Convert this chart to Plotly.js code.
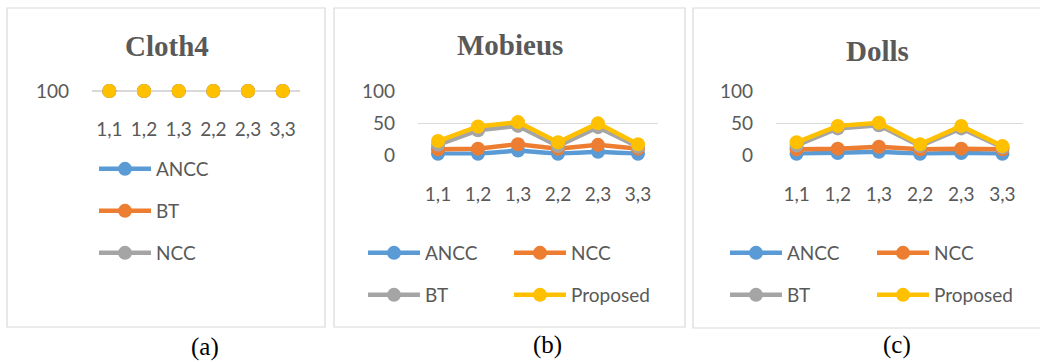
<!DOCTYPE html>
<html>
<head>
<meta charset="utf-8">
<script src="https://cdn.plot.ly/plotly-3.0.1.min.js"></script>
<style>
  html, body { margin: 0; padding: 0; background: #ffffff; }
  #chart { width: 1040px; height: 362px; }
</style>
</head>
<body>
<div id="chart"></div>
<script>
// Window sizes (row,col) compared in each scene
const categories = ['1,1', '1,2', '1,3', '2,2', '2,3', '3,3'];

// Cloth4: every method reaches 100
const cloth4Ancc     = [100, 100, 100, 100, 100, 100];
const cloth4Bt       = [100, 100, 100, 100, 100, 100];
const cloth4Ncc      = [100, 100, 100, 100, 100, 100];
const cloth4Proposed = [100, 100, 100, 100, 100, 100];

// Mobieus
const mobieusAncc     = [2, 2, 7, 2, 5, 2];
const mobieusNcc      = [9, 10, 17, 10, 16, 10];
const mobieusBt       = [16, 39, 46, 14, 44, 13];
const mobieusProposed = [22, 45, 52, 20, 50, 17];

// Dolls
const dollsAncc     = [2, 3, 5, 2, 3, 2];
const dollsNcc      = [9, 10, 13, 9, 10, 9];
const dollsBt       = [15, 42, 47, 14, 42, 12];
const dollsProposed = [20, 46, 51, 17, 46, 14];

const panelTitles = ['Cloth4', 'Mobieus', 'Dolls'];
const captions = ['(a)', '(b)', '(c)'];
const yTicks = [0, 50, 100];

const W = 1040, H = 362;
const BLUE = '#5B9BD5', ORANGE = '#ED7D31', GRAY = '#A5A5A5', GOLD = '#FFC000';
const TEXT = '#595959', GRID = '#D9D9D9';
const SANS = 'Lato, "Open Sans", sans-serif';
const SERIF = '"Liberation Serif", "Times New Roman", serif';

const px = v => v / W;           // horizontal pixel -> paper
const py = v => 1 - v / H;       // vertical pixel -> paper

function series(name, y, color, xa, ya, legend, opts) {
  opts = opts || {};
  return {
    type: 'scatter', mode: opts.mode || 'lines+markers', name: name,
    x: opts.x || categories, y: y, xaxis: xa, yaxis: ya,
    line: { color: color, width: 4.5 },
    marker: { color: color, size: 14, line: { width: 0 } },
    cliponaxis: false,
    legend: legend, showlegend: opts.showlegend !== false
  };
}

// Cloth4 points coincide at 100, so only markers are plotted there;
// its legend keys come from empty line+marker entries.
const none = [null];

const traces = [
  // (a) Cloth4
  series('ANCC', cloth4Ancc, BLUE, 'x', 'y', 'legend', { mode: 'markers', showlegend: false }),
  series('BT', cloth4Bt, ORANGE, 'x', 'y', 'legend', { mode: 'markers', showlegend: false }),
  series('NCC', cloth4Ncc, GRAY, 'x', 'y', 'legend', { mode: 'markers', showlegend: false }),
  series('Proposed', cloth4Proposed, GOLD, 'x', 'y', 'legend', { mode: 'markers', showlegend: false }),
  series('ANCC', none, BLUE, 'x', 'y', 'legend', { x: none }),
  series('BT', none, ORANGE, 'x', 'y', 'legend2', { x: none }),
  series('NCC', none, GRAY, 'x', 'y', 'legend3', { x: none }),
  // (b) Mobieus
  series('ANCC', mobieusAncc, BLUE, 'x2', 'y2', 'legend4'),
  series('NCC', mobieusNcc, ORANGE, 'x2', 'y2', 'legend5'),
  series('BT', mobieusBt, GRAY, 'x2', 'y2', 'legend6'),
  series('Proposed', mobieusProposed, GOLD, 'x2', 'y2', 'legend7'),
  // (c) Dolls
  series('ANCC', dollsAncc, BLUE, 'x3', 'y3', 'legend8'),
  series('NCC', dollsNcc, ORANGE, 'x3', 'y3', 'legend9'),
  series('BT', dollsBt, GRAY, 'x3', 'y3', 'legend10'),
  series('Proposed', dollsProposed, GOLD, 'x3', 'y3', 'legend11')
];

const tickFont = { family: SANS, size: 19, color: TEXT };

function xAxis(left, right, anchor, standoff) {
  return {
    domain: [px(left), px(right)], anchor: anchor,
    type: 'category', range: [-0.5, 5.5],
    showgrid: false, showline: false, zeroline: false, ticks: '',
    tickfont: tickFont, ticklabelstandoff: standoff, fixedrange: true
  };
}

function yAxis(bottom, top, anchor, range, tickvals) {
  return {
    domain: [py(bottom), py(top)], anchor: anchor,
    range: range, tickmode: 'array', tickvals: tickvals,
    showgrid: true, gridcolor: GRID, gridwidth: 1.5,
    showline: false, zeroline: false, ticks: '',
    tickfont: tickFont, ticklabelstandoff: 22, fixedrange: true
  };
}

function legendAt(x, y) {
  return {
    x: px(x), y: py(y), xanchor: 'left', yanchor: 'middle',
    orientation: 'v', bgcolor: 'rgba(0,0,0,0)', borderwidth: 0,
    font: { family: SANS, size: 19, color: TEXT },
    itemwidth: 52, itemclick: false, itemdoubleclick: false
  };
}

const shapeBox = (x0, y0, x1, y1) => ({
  type: 'rect', xref: 'paper', yref: 'paper', layer: 'below',
  x0: px(x0), x1: px(x1), y0: py(y1), y1: py(y0),
  line: { color: GRID, width: 1.2 }, fillcolor: 'rgba(0,0,0,0)'
});

const titleAt = (text, x, y) => ({
  text: text, xref: 'paper', yref: 'paper', x: px(x), y: py(y),
  xanchor: 'center', yanchor: 'middle', showarrow: false,
  font: { family: SERIF, size: 29, color: TEXT, weight: 'bold' }
});

const captionAt = (text, x, y) => ({
  text: text, xref: 'paper', yref: 'paper', x: px(x), y: py(y),
  xanchor: 'center', yanchor: 'middle', showarrow: false,
  font: { family: SERIF, size: 25, color: '#000000' }
});

const layout = {
  width: W, height: H,
  margin: { l: 0, r: 0, t: 0, b: 0 },
  paper_bgcolor: '#ffffff', plot_bgcolor: 'rgba(0,0,0,0)',
  showlegend: true,
  xaxis: xAxis(92, 300, 'y', 18),
  yaxis: yAxis(98, 84, 'x', [99, 101], [100]),
  xaxis2: xAxis(418, 658, 'y2', 25),
  yaxis2: yAxis(155.6, 91.1, 'x2', [-1, 101], yTicks),
  xaxis3: xAxis(776, 1023, 'y3', 25),
  yaxis3: yAxis(155.6, 91.1, 'x3', [-1, 101], yTicks),
  legend: legendAt(94, 169),
  legend2: legendAt(94, 211),
  legend3: legendAt(94, 253),
  legend4: legendAt(363, 253),
  legend5: legendAt(509, 253),
  legend6: legendAt(363, 295),
  legend7: legendAt(509, 295),
  legend8: legendAt(725, 253),
  legend9: legendAt(872, 253),
  legend10: legendAt(725, 295),
  legend11: legendAt(872, 295),
  shapes: [
    shapeBox(7, 8, 325, 327),
    shapeBox(334, 8, 685, 327),
    shapeBox(693, 8, 1045, 328)
  ],
  annotations: [
    titleAt(panelTitles[0], 167, 46),
    titleAt(panelTitles[1], 510, 45),
    titleAt(panelTitles[2], 877, 51),
    captionAt(captions[0], 205, 347),
    captionAt(captions[1], 547, 345),
    captionAt(captions[2], 897, 345)
  ]
};

Plotly.newPlot('chart', traces, layout, { staticPlot: true, displayModeBar: false });
</script>
</body>
</html>
